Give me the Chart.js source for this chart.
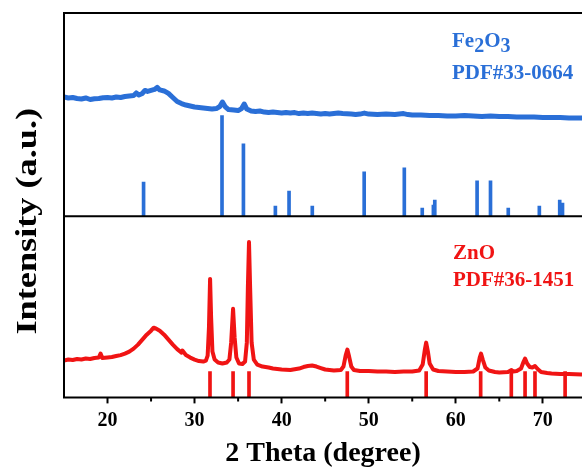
<!DOCTYPE html>
<html>
<head>
<meta charset="utf-8">
<script src="https://cdn.jsdelivr.net/npm/chart.js@4.4.1/dist/chart.umd.min.js"></script>
<style>
  html, body { margin: 0; padding: 0; background: #fff; }
</style>
</head>
<body>
<canvas id="xrd" width="582" height="473"></canvas>
<script>
// 2-theta axis ticks
const xTicks = [20, 30, 40, 50, 60, 70];
const xMinor = [25, 35, 45, 55, 65];

// Fe2O3 sample pattern (upper panel)
const feTheta = [15, 15.5, 16, 16.5, 17, 17.5, 18, 18.5, 19, 19.5, 20, 20.5, 21, 21.5, 22, 22.5, 23, 23.3, 23.6, 24, 24.3, 24.6, 25, 25.4, 25.7, 26, 26.5, 27, 27.5, 28, 28.5, 29, 29.5, 30, 30.5, 31, 31.5, 32, 32.5, 32.9, 33.2, 33.5, 33.9, 34.5, 35, 35.4, 35.7, 36, 36.5, 37, 37.5, 38, 38.5, 39, 39.5, 40, 40.5, 41, 41.5, 42, 42.5, 43, 43.5, 44, 44.5, 45, 45.5, 46, 46.5, 47, 48, 48.5, 49, 49.5, 50, 51, 52, 53, 53.5, 54, 54.5, 55, 56, 57, 58, 59, 60, 61, 62, 63, 64, 65, 66, 67, 68, 69, 70, 71, 72, 73, 74.5];
const feCounts = [118.5, 117.5, 118, 117, 116.5, 117.5, 116, 116.8, 117, 117.8, 118, 117.5, 118.5, 118, 119, 119.5, 120, 122.5, 120.5, 122, 125, 124, 125, 126, 128, 125.5, 124.5, 122, 118, 114, 112, 110.5, 109.5, 108.5, 108, 107.5, 107, 106.5, 107, 109, 113.5, 109, 106, 105.5, 105, 107, 111.5, 106.5, 104.5, 104, 104.5, 103.5, 103, 103.5, 103, 102.5, 103, 102.5, 103, 102, 102.5, 102, 102.5, 102, 101.5, 102, 101.5, 102, 102.5, 102, 101.5, 101, 101.5, 102.5, 101.5, 101, 101.5, 101, 101.5, 102, 101, 100.5, 100.5, 100, 100, 99.5, 99.5, 100, 99.5, 99, 99.5, 99, 99, 98.5, 98.5, 98.5, 98, 98, 98, 97.5, 97.5];

// PDF#33-0664 reference lines
const feRefTheta = [24.14, 33.15, 35.61, 39.28, 40.85, 43.52, 49.48, 54.09, 56.15, 57.43, 57.59, 62.45, 63.99, 66.03, 69.60, 71.94, 72.26];
const feRefInt = [34, 100, 72, 10, 25, 10, 44, 48, 8, 11, 16, 35, 35, 8, 10, 16, 13];

// ZnO sample pattern (lower panel)
const znTheta = [15, 15.5, 16, 16.5, 17, 17.5, 18, 18.5, 19, 19.2, 19.4, 20, 20.5, 21, 21.5, 22, 22.5, 23, 23.5, 24, 24.5, 25, 25.3, 25.6, 26, 26.5, 27, 27.5, 28, 28.5, 28.6, 29, 29.5, 30, 30.5, 31, 31.3, 31.5, 31.65, 31.78, 31.9, 32.05, 32.3, 32.7, 33.2, 33.7, 34, 34.2, 34.42, 34.6, 34.8, 35.1, 35.5, 35.8, 36, 36.12, 36.25, 36.38, 36.55, 36.8, 37.2, 37.8, 38.5, 39, 40, 41, 42, 42.5, 43, 43.5, 44, 44.5, 45, 46, 46.8, 47.1, 47.35, 47.55, 47.75, 48, 48.3, 49, 50, 51, 52, 53, 54, 55, 55.8, 56.2, 56.45, 56.6, 56.8, 57, 57.4, 58, 59, 60, 61, 62, 62.5, 62.75, 62.9, 63.1, 63.4, 63.8, 64.5, 65, 66, 66.3, 66.4, 66.6, 67, 67.5, 67.8, 67.96, 68.2, 68.5, 68.8, 69.1, 69.4, 69.8, 70.5, 71, 72, 73, 74.5];
const znCounts = [37, 38, 37.5, 38.5, 38, 39, 38.5, 39.5, 40, 44, 39.5, 40, 40.5, 41.5, 42.5, 44, 46, 49, 53, 58, 63, 67, 70, 69, 67, 63, 58, 53, 48.5, 45, 47, 42.5, 40, 38, 36.5, 36, 37, 42, 70, 119, 80, 46, 38, 35, 34, 35, 38, 55, 89, 60, 40, 34, 33.5, 36, 55, 110, 156, 110, 55, 38, 33, 31, 30, 29, 28, 27.5, 29, 30.5, 31.5, 32, 31, 29.5, 28, 27, 27.5, 31, 42, 48, 41, 31, 27.5, 26.5, 26.5, 26, 26, 25.5, 26, 26, 27, 33, 48, 55, 46, 34, 28, 26.5, 26, 25.5, 25.5, 26, 29, 40, 44, 38, 30, 27, 25.5, 25, 25.5, 27, 27.5, 26, 26.5, 29, 36, 39, 34, 30.5, 30, 31.5, 28.5, 25.5, 24.5, 24, 23.5, 23.5, 23];

// PDF#36-1451 reference lines
const znRefTheta = [31.77, 34.42, 36.25, 47.54, 56.60, 62.86, 66.38, 67.96, 69.10, 72.56];
const znRefInt = [26, 26, 26, 26, 26, 26, 26, 26, 26, 26];

const blue = '#2a6fd7';
const red = '#f01414';
const serif = '"Liberation Serif", "Times New Roman", serif';

function pts(xs, ys) {
  return xs.map((x, i) => ({ x: x, y: ys[i] }));
}

// frame, minor ticks, y title and phase labels
const decorations = {
  id: 'decorations',
  afterDatasetsDraw(chart) {
    const ctx = chart.ctx;
    const a = chart.chartArea;
    const mid = chart.scales.yBot.top;
    const xs = chart.scales.x;
    ctx.save();
    ctx.strokeStyle = '#000';
    ctx.lineWidth = 2;
    ctx.beginPath();
    ctx.moveTo(a.left - 1, a.top); ctx.lineTo(a.right, a.top);
    ctx.moveTo(a.left, a.top); ctx.lineTo(a.left, a.bottom);
    ctx.moveTo(a.left, mid); ctx.lineTo(a.right, mid);
    ctx.moveTo(a.left - 1, a.bottom); ctx.lineTo(a.right, a.bottom);
    for (const v of xMinor) {
      const px = xs.getPixelForValue(v);
      ctx.moveTo(px, a.bottom); ctx.lineTo(px, a.bottom + 4);
    }
    ctx.stroke();

    // y axis title, drawn a bit stretched along its length
    ctx.save();
    ctx.translate(29, (a.top + a.bottom) / 2 + 16);
    ctx.rotate(-Math.PI / 2);
    ctx.scale(1.25, 1);
    ctx.fillStyle = '#000';
    ctx.font = 'bold 29px ' + serif;
    ctx.textAlign = 'center';
    ctx.textBaseline = 'middle';
    ctx.fillText('Intensity (a.u.)', 0, 0);
    ctx.restore();

    ctx.textAlign = 'left';
    ctx.textBaseline = 'alphabetic';
    const chem = (parts, x, y, color) => {
      ctx.fillStyle = color;
      let cx = x;
      for (const [txt, sub] of parts) {
        ctx.font = 'bold ' + (sub ? 20 : 21) + 'px ' + serif;
        ctx.fillText(txt, cx, sub ? y + 5 : y);
        cx += ctx.measureText(txt).width;
      }
    };
    chem([['Fe', 0], ['2', 1], ['O', 0], ['3', 1]], a.left + 388, a.top + 34, blue);
    chem([['PDF#33-0664', 0]], a.left + 388, a.top + 66, blue);
    chem([['ZnO', 0]], a.left + 389, mid + 43, red);
    chem([['PDF#36-1451', 0]], a.left + 389, mid + 70, red);
    ctx.restore();
  }
};

new Chart(document.getElementById('xrd'), {
  type: 'line',
  data: {
    datasets: [
      {
        type: 'bar',
        data: pts(feRefTheta, feRefInt),
        yAxisID: 'yTop',
        backgroundColor: blue,
        barThickness: 3,
        grouped: false
      },
      {
        type: 'bar',
        data: pts(znRefTheta, znRefInt),
        yAxisID: 'yBot',
        backgroundColor: red,
        barThickness: 3,
        grouped: false
      },
      {
        data: pts(feTheta, feCounts),
        yAxisID: 'yTop',
        borderColor: blue,
        borderWidth: 5,
        borderJoinStyle: 'round',
        pointRadius: 0,
        tension: 0
      },
      {
        data: pts(znTheta, znCounts),
        yAxisID: 'yBot',
        borderColor: red,
        borderWidth: 4,
        borderJoinStyle: 'round',
        pointRadius: 0,
        tension: 0
      }
    ]
  },
  options: {
    responsive: false,
    animation: false,
    devicePixelRatio: 1,
    layout: { padding: { top: 13, left: 56, right: 0, bottom: 2 } },
    plugins: { legend: { display: false }, tooltip: { enabled: false } },
    scales: {
      x: {
        type: 'linear',
        min: 15,
        max: 74.5,
        offset: false,
        afterBuildTicks: s => { s.ticks = xTicks.map(v => ({ value: v })); },
        ticks: { color: '#000', padding: 5, font: { family: serif, size: 20, weight: 'bold' } },
        grid: { display: true, drawOnChartArea: false, offset: false, tickLength: 6, tickWidth: 2, tickColor: '#000' },
        border: { display: false },
        title: {
          display: true,
          text: '2 Theta (degree)',
          color: '#000',
          font: { family: serif, size: 28, weight: 'bold' },
          padding: { top: 0, bottom: 0 }
        }
      },
      yBot: {
        type: 'linear',
        position: 'left',
        stack: 'panels',
        stackWeight: 182,
        min: 0,
        max: 182,
        ticks: { display: false },
        grid: { display: false },
        border: { display: false }
      },
      yTop: {
        type: 'linear',
        position: 'left',
        stack: 'panels',
        stackWeight: 204,
        min: 0,
        max: 202,
        ticks: { display: false },
        grid: { display: false },
        border: { display: false }
      }
    }
  },
  plugins: [decorations]
});
</script>
</body>
</html>
